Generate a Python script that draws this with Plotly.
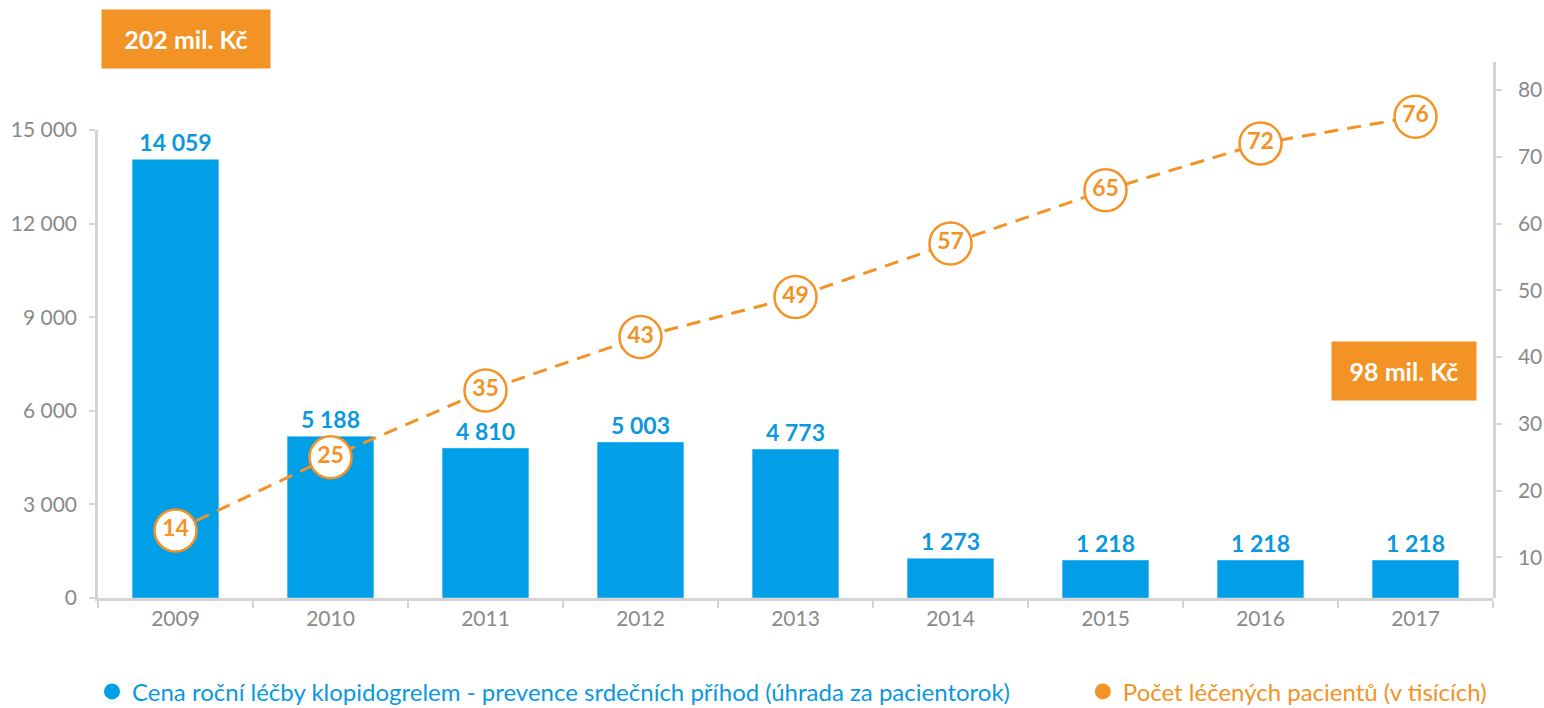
import plotly.graph_objects as go

years = ["2009", "2010", "2011", "2012", "2013", "2014", "2015", "2016", "2017"]
cost = [14059, 5188, 4810, 5003, 4773, 1273, 1218, 1218, 1218]
patients = [14, 25, 35, 43, 49, 57, 65, 72, 76]
left_ticks = [0, 3000, 6000, 9000, 12000, 15000]
right_ticks = [10, 20, 30, 40, 50, 60, 70, 80]
bar_name = "Cena roční léčby klopidogrelem - prevence srdečních příhod (úhrada za pacientorok)"
line_name = "Počet léčených pacientů (v tisících)"
box_start = "202 mil. Kč"
box_end = "98 mil. Kč"

BLUE = "#009FE8"
BLUE_TXT = "#0A98DE"
ORANGE = "#F39325"
GRAY = "#8A8A8A"
AXIS = "#D4D4D4"
FONT = "Lato"

fig = go.Figure()

fig.add_trace(go.Bar(
    x=years, y=cost, yaxis="y", marker_color=BLUE, width=0.56,
    text=cost, texttemplate="%{y:,d}", textposition="outside",
    textfont=dict(family=FONT, size=23, color=BLUE_TXT, weight="bold"),
    cliponaxis=False, showlegend=False, hoverinfo="x+y",
))

fig.add_trace(go.Scatter(
    x=years, y=patients, yaxis="y2", mode="lines+markers+text",
    line=dict(color=ORANGE, width=3, dash="14px,9px"),
    marker=dict(size=42, color="white", line=dict(color=ORANGE, width=2.5)),
    text=patients, textposition="middle center",
    textfont=dict(family=FONT, size=23, color=ORANGE, weight="bold"),
    cliponaxis=False, showlegend=False,
))

# legend entries
fig.add_trace(go.Scatter(
    x=[None], y=[None], mode="markers", yaxis="y2",
    marker=dict(size=17, color=BLUE, symbol="circle"),
    name=f"<span style='color:{BLUE_TXT}'>{bar_name}</span>", legend="legend",
))
fig.add_trace(go.Scatter(
    x=[None], y=[None], mode="markers", yaxis="y2",
    marker=dict(size=17, color=ORANGE, symbol="circle"),
    name=f"<span style='color:{ORANGE}'>{line_name}</span>", legend="legend2",
))

fig.update_layout(
    width=1544, height=708,
    margin=dict(l=98, r=51, t=62, b=110, autoexpand=False),
    paper_bgcolor="white", plot_bgcolor="rgba(0,0,0,0)",
    separators=", ",
    font=dict(family=FONT, size=20, color=GRAY),
    xaxis=dict(
        type="category", range=[-0.5, 8.5], showline=True, linecolor=AXIS, linewidth=2.5,
        ticks="outside", tickson="boundaries", ticklen=7, tickcolor=AXIS, tickwidth=2,
        tickfont=dict(size=21, color=GRAY), showgrid=False, anchor="y", automargin=False,
    ),
    yaxis=dict(
        domain=[0, 468 / 536], range=[0, 15000], tickvals=left_ticks, tickformat=",d",
        showline=True, linecolor=AXIS, linewidth=2.5, ticks="outside", ticklen=6,
        tickcolor=AXIS, tickwidth=2, showgrid=False, zeroline=False,
        tickfont=dict(size=21, color=GRAY), anchor="x", ticklabelstandoff=8, automargin=False,
    ),
    yaxis2=dict(
        domain=[0, 1], range=[3.9, 84.2], tickvals=right_ticks, side="right",
        showline=True, linecolor=AXIS, linewidth=2.5, ticks="outside", ticklen=6,
        tickcolor=AXIS, tickwidth=2, showgrid=False, zeroline=False,
        tickfont=dict(size=21, color=GRAY), anchor="x", ticklabelstandoff=12, automargin=False,
    ),
    legend=dict(orientation="h", x=-0.0043, xanchor="left", y=-0.175, yanchor="middle",
                font=dict(size=24), bgcolor="rgba(0,0,0,0)"),
    legend2=dict(orientation="h", x=0.706, xanchor="left", y=-0.175, yanchor="middle",
                 font=dict(size=24), bgcolor="rgba(0,0,0,0)"),
    annotations=[
        dict(text=f"<b>{box_start}</b>", xref="paper", yref="paper", x=0.063, y=1.043,
             xanchor="center", yanchor="middle", showarrow=False, bgcolor=ORANGE,
             width=160, height=50, borderpad=4, font=dict(family=FONT, size=25, color="white")),
        dict(text=f"<b>{box_end}</b>", xref="paper", yref="paper", x=0.936, y=0.4235,
             xanchor="center", yanchor="middle", showarrow=False, bgcolor=ORANGE,
             width=136, height=50, borderpad=4, font=dict(family=FONT, size=25, color="white")),
    ],
)

fig.write_html("out.html", config={"displayModeBar": False},
               post_script="document.body.style.margin='0px';")
